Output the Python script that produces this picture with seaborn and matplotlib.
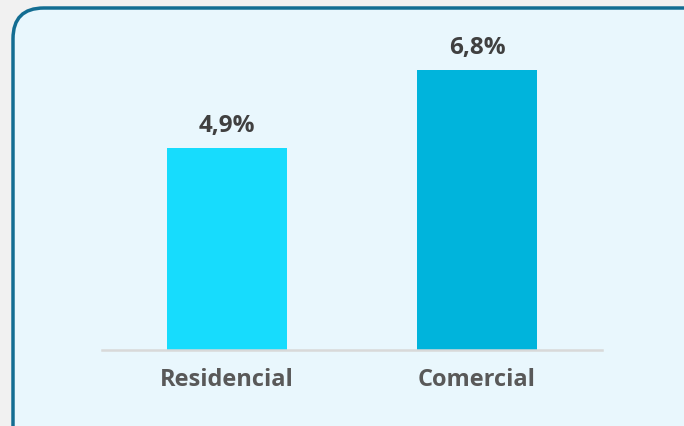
import matplotlib
matplotlib.use("Agg")
import matplotlib.pyplot as plt
from matplotlib.patches import FancyBboxPatch
import seaborn as sns
import pandas as pd

categories = ["Residencial", "Comercial"]
values = [4.9, 6.8]
value_labels = ["4,9%", "6,8%"]
bar_colors = ["#17dcfd", "#00b4dc"]

sns.set_theme(style="white")
plt.rcParams['font.family'] = ['Open Sans', 'DejaVu Sans']

W, H = 684, 426
fig = plt.figure(figsize=(W / 100, H / 100), dpi=100)
fig.patch.set_facecolor("#f1f1f1")

# panel box (extends beyond right/bottom edges)
shadow = FancyBboxPatch((15 / W, -0.2), 1.2, (H - 10) / H + 0.2,
                        boxstyle="round,pad=0,rounding_size=0.045",
                        transform=fig.transFigure, facecolor="#dcdcdc",
                        edgecolor="none", zorder=0, mutation_aspect=W / H)
fig.patches.append(shadow)
box = FancyBboxPatch((13 / W, -0.2), 1.2, (H - 8) / H + 0.2,
                     boxstyle="round,pad=0,rounding_size=0.045",
                     transform=fig.transFigure, facecolor="#e9f7fd",
                     edgecolor="#136d92", linewidth=2.5, zorder=1,
                     mutation_aspect=W / H)
fig.patches.append(box)

left = 102 / W
right = 602 / W
bottom = (H - 350) / H
top = (H - 20) / H
ax = fig.add_axes([left, bottom, right - left, top - bottom])
ax.set_zorder(2)
ax.patch.set_alpha(0)

df = pd.DataFrame({"cat": categories, "val": values})
sns.barplot(data=df, x="cat", y="val", hue="cat", palette=bar_colors,
            width=0.48, legend=False, ax=ax, saturation=1, linewidth=0)

ax.set_xlim(-0.5, 1.5)
ax.set_ylim(0, 8.0)
for i, (v, lab) in enumerate(zip(values, value_labels)):
    ax.annotate(lab, (i, v), xytext=(0, 7), textcoords="offset points",
                ha="center", va="bottom", fontsize=17.5, fontweight="bold",
                color="#404040")

for s in ["top", "right", "left"]:
    ax.spines[s].set_visible(False)
ax.spines["bottom"].set_color("#d9d9d9")
ax.spines["bottom"].set_linewidth(1.8)
ax.set_yticks([])
ax.set_xlabel("")
ax.set_ylabel("")
ax.tick_params(axis="x", length=0, pad=13, labelsize=17, labelcolor="#595959")
for t in ax.get_xticklabels():
    t.set_fontweight("bold")

fig.savefig("out.png", dpi=100)
